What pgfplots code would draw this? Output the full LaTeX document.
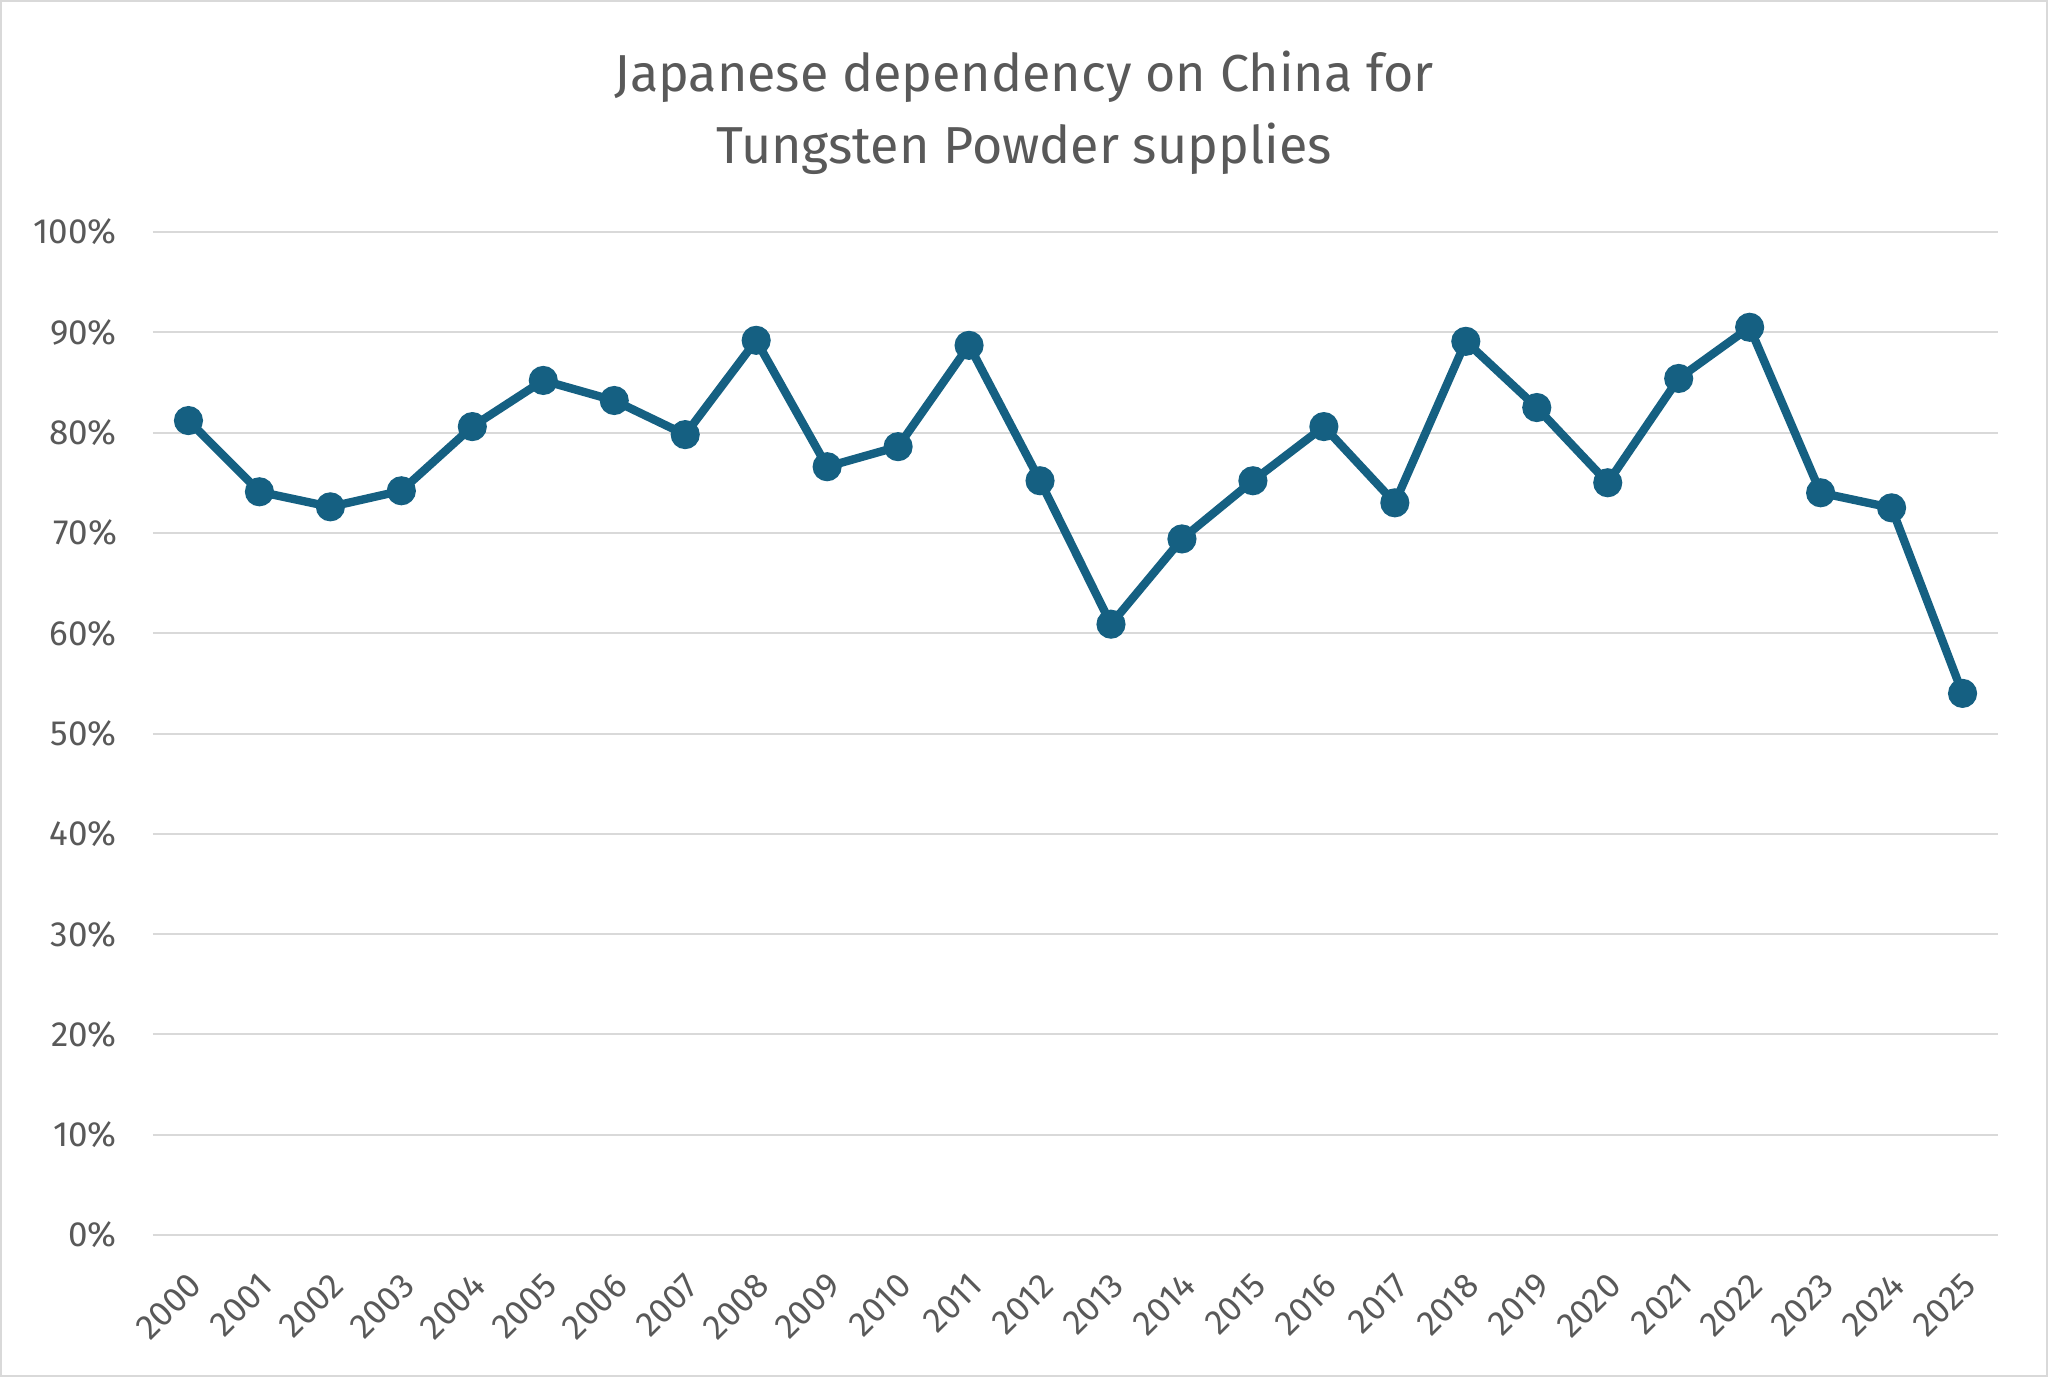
\documentclass[border=0pt]{standalone}
\usepackage{pgfplots}
\pgfplotsset{compat=1.18}
\usepackage{fontspec}
\setmainfont{Fira Sans}
\definecolor{lineblue}{HTML}{156082}
\definecolor{txt}{HTML}{595959}
\definecolor{gridc}{HTML}{D9D9D9}
\pgfplotstableread{
x y
0 81.2
1 74.1
2 72.6
3 74.2
4 80.6
5 85.2
6 83.2
7 79.8
8 89.2
9 76.6
10 78.6
11 88.7
12 75.2
13 60.9
14 69.4
15 75.2
16 80.6
17 73.0
18 89.1
19 82.5
20 75.0
21 85.4
22 90.5
23 74.0
24 72.5
25 54.0
}\datatable
\begin{document}
\begin{tikzpicture}
\draw[gridc, line width=0.6pt, fill=white] (0.3pt,0.3pt) rectangle (614.1pt,412.8pt);
\node[anchor=base, text=txt, font=\fontsize{15.6}{18}\selectfont] at (307.2pt,385.6pt) {Japanese dependency on China for};
\node[anchor=base, text=txt, font=\fontsize{15.6}{18}\selectfont] at (307.2pt,364.1pt) {Tungsten Powder supplies};
\begin{axis}[
  at={(45.9pt,42.6pt)}, anchor=south west,
  scale only axis, width=553.5pt, height=300.9pt,
  xmin=-0.5, xmax=25.5, ymin=0, ymax=100,
  axis line style={draw=none},
  major tick length=0pt,
  ytick={0,10,...,100},
  yticklabels={0\%,10\%,20\%,30\%,40\%,50\%,60\%,70\%,80\%,90\%,100\%},
  xtick={0,...,25},
  xticklabels={2000,2001,2002,2003,2004,2005,2006,2007,2008,2009,2010,2011,2012,2013,2014,2015,2016,2017,2018,2019,2020,2021,2022,2023,2024,2025},
  ymajorgrids, grid style={gridc, line width=0.6pt},
  y tick label style={text=txt, font=\fontsize{10.5}{12}\selectfont, anchor=east, xshift=-7.3pt},
  x tick label style={text=txt, font=\fontsize{10.5}{12}\selectfont, rotate=45, anchor=east, yshift=-11pt, xshift=-4.5pt},
  clip=false,
]
\addplot[color=lineblue, line width=2.5pt, mark=*, mark size=3.1pt, mark options={solid, fill=lineblue}] table[x=x, y=y] {\datatable};
\end{axis}
\end{tikzpicture}
\end{document}
